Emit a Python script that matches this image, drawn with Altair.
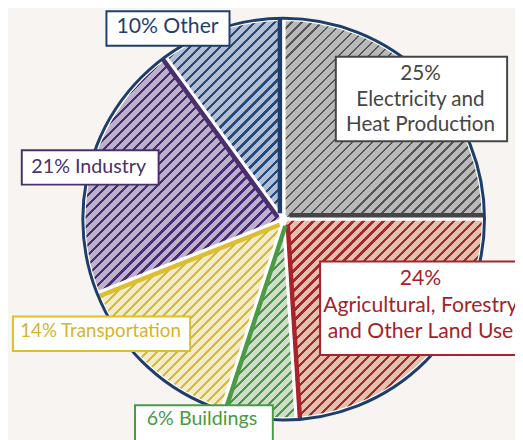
import math
import altair as alt
import pandas as pd

# ---- data ----
categories = ["Electricity and Heat Production", "Agricultural, Forestry and Other Land Use",
              "Buildings", "Transportation", "Industry", "Other"]
shares = [25, 24, 6, 14, 21, 10]
label_lines = [["25%", "Electricity and", "Heat Production"],
               ["24%", "Agricultural, Forestry", "and Other Land Use"],
               ["6% Buildings"], ["14% Transportation"], ["21% Industry"], ["10% Other"]]

# ---- styles ----
fill_colors = ["#b9b9b9", "#e3bfae", "#cfdec8", "#f4ecc7", "#bcb1cb", "#b4bed3"]
hatch_colors = ["#555555", "#a8262c", "#4a9a45", "#d9bb2c", "#4c2b7b", "#234b7d"]
edge_colors = ["#454545", "#a8232b", "#4a9b45", "#dcbf30", "#4b2f6c", "#1d3f6e"]
text_colors = ["#454545", "#a3232a", "#4a9a40", "#d4b52a", "#4a2f6a", "#1f3f6e"]
font_sizes = [21, 21.5, 20, 19, 20, 21.5]
NAVY = "#1d3e6b"
BG = "#f7f4f1"
FONT = "Lato"

# ---- layout (chart pixel coordinates) ----
CX, CY, R = 280, 211, 203
W_CHART, H_CHART = 515, 432
# label boxes: x0, x1, y0, y1 ; text centre x and first-line y, line step
box_layout = [
    (333, 507, 46, 132, 419, 64, 26),
    (317, 560, 254, 349, 419, 272, 27),
    (129, 269, 400, 460, 197, 414, 26),
    (5, 185, 310, 345, 94, 325, 26),
    (14, 153, 141, 176, 82, 158, 26),
    (100, 225, 0, 35, 162, 16, 26),
]

df = pd.DataFrame({"category": categories, "share": shares, "order": list(range(len(shares)))})
theta_scale = alt.Scale(domain=[0, sum(shares)], range=[0, 2 * math.pi])


def wedge_bbox(a0, a1):
    pts = [(0.0, 0.0), (R * math.sin(a0), -R * math.cos(a0)), (R * math.sin(a1), -R * math.cos(a1))]
    for k in range(0, 5):
        a = k * math.pi / 2
        if a0 < a < a1:
            pts.append((R * math.sin(a), -R * math.cos(a)))
    xs = [p[0] for p in pts]
    ys = [p[1] for p in pts]
    return max(xs) - min(xs), max(ys) - min(ys)


def hatch(W, H, fill, line, period=7.2, width=2.3, alpha=45):
    a = math.radians(alpha)
    nx, ny = math.sin(a), math.cos(a)
    L = nx * W + ny * H
    c = L / (nx * nx * W * W + ny * ny * H * H)
    x2, y2 = nx * W * c, ny * H * c
    stops = []
    k = 0
    while k * period / L < 1:
        o0 = k * period / L
        o1 = min((k * period + width) / L, 1)
        o2 = min((k + 1) * period / L, 1)
        stops += [{"offset": o0, "color": line}, {"offset": o1, "color": line},
                  {"offset": o1, "color": fill}, {"offset": o2, "color": fill}]
        k += 1
    return {"gradient": "linear", "x1": 0, "y1": 0, "x2": x2, "y2": y2, "stops": stops}


def base_slice(i):
    return (alt.Chart(df)
            .transform_window(cum="sum(share)", sort=[alt.SortField("order")], frame=[None, 0])
            .transform_calculate(start="datum.cum - datum.share")
            .transform_filter(alt.datum.order == i))


total = sum(shares)
fill_layers, edge_layers = [], []
cum = 0
for i, s in enumerate(shares):
    a0 = cum / total * 2 * math.pi
    cum += s
    a1 = cum / total * 2 * math.pi
    W, H = wedge_bbox(a0, a1)
    grad = hatch(W, H, fill_colors[i], hatch_colors[i], width=1.8 if i == 0 else 2.3)
    fill_layers.append(
        base_slice(i).mark_arc(radius=R, fill=grad, stroke="white", strokeWidth=3.5).encode(
            theta=alt.Theta("start:Q", scale=theta_scale, stack=False),
            theta2="cum:Q",
            x=alt.value(CX), y=alt.value(CY)))
    arc_len = R * (a1 - a0)
    off = 3.8
    ox, oy = -off * math.cos(a1), -off * math.sin(a1)
    edge_layers.append(
        base_slice(i).mark_arc(radius=R, filled=False, stroke=edge_colors[i], strokeWidth=4.5,
                               strokeDash=[0, arc_len, R - 6, 100000]).encode(
            theta=alt.Theta("start:Q", scale=theta_scale, stack=False),
            theta2="cum:Q",
            x=alt.value(CX + ox), y=alt.value(CY + oy)))

one = pd.DataFrame({"k": [0]})
rim = alt.Chart(one).mark_arc(radius=R + 1, theta=0, theta2=2 * math.pi, filled=False,
                              stroke=NAVY, strokeWidth=3).encode(x=alt.value(CX), y=alt.value(CY))
hub = alt.Chart(one).mark_circle(size=70, color="white", opacity=1).encode(
    x=alt.value(CX), y=alt.value(CY))

boxes = pd.DataFrame([{"x0": b[0], "x1": b[1], "y0": b[2], "y1": b[3], "color": edge_colors[i]}
                      for i, b in enumerate(box_layout)])
box_layer = alt.Chart(boxes).mark_rect(fill="white", strokeWidth=2).encode(
    x=alt.X("x0:Q", scale=None, axis=None), x2="x1:Q",
    y=alt.Y("y0:Q", scale=None, axis=None), y2="y1:Q",
    stroke=alt.Stroke("color:N", scale=None))

rows = []
for i, lines in enumerate(label_lines):
    b = box_layout[i]
    for j, t in enumerate(lines):
        rows.append({"text": t, "x": b[4], "y": b[5] + j * b[6], "color": text_colors[i],
                     "fs": font_sizes[i]})
texts = pd.DataFrame(rows)
text_layer = alt.Chart(texts).mark_text(font=FONT, baseline="middle", align="center").encode(
    x=alt.X("x:Q", scale=None, axis=None), y=alt.Y("y:Q", scale=None, axis=None),
    text="text:N", color=alt.Color("color:N", scale=None),
    size=alt.Size("fs:Q", scale=None))

chart = alt.layer(*fill_layers, *edge_layers, rim, hub, box_layer, text_layer).properties(
    width=W_CHART, height=H_CHART, padding=0, autosize="none", background=BG
).configure_view(stroke=None)

chart.save("out.html", embed_options={"renderer": "svg", "actions": False})
